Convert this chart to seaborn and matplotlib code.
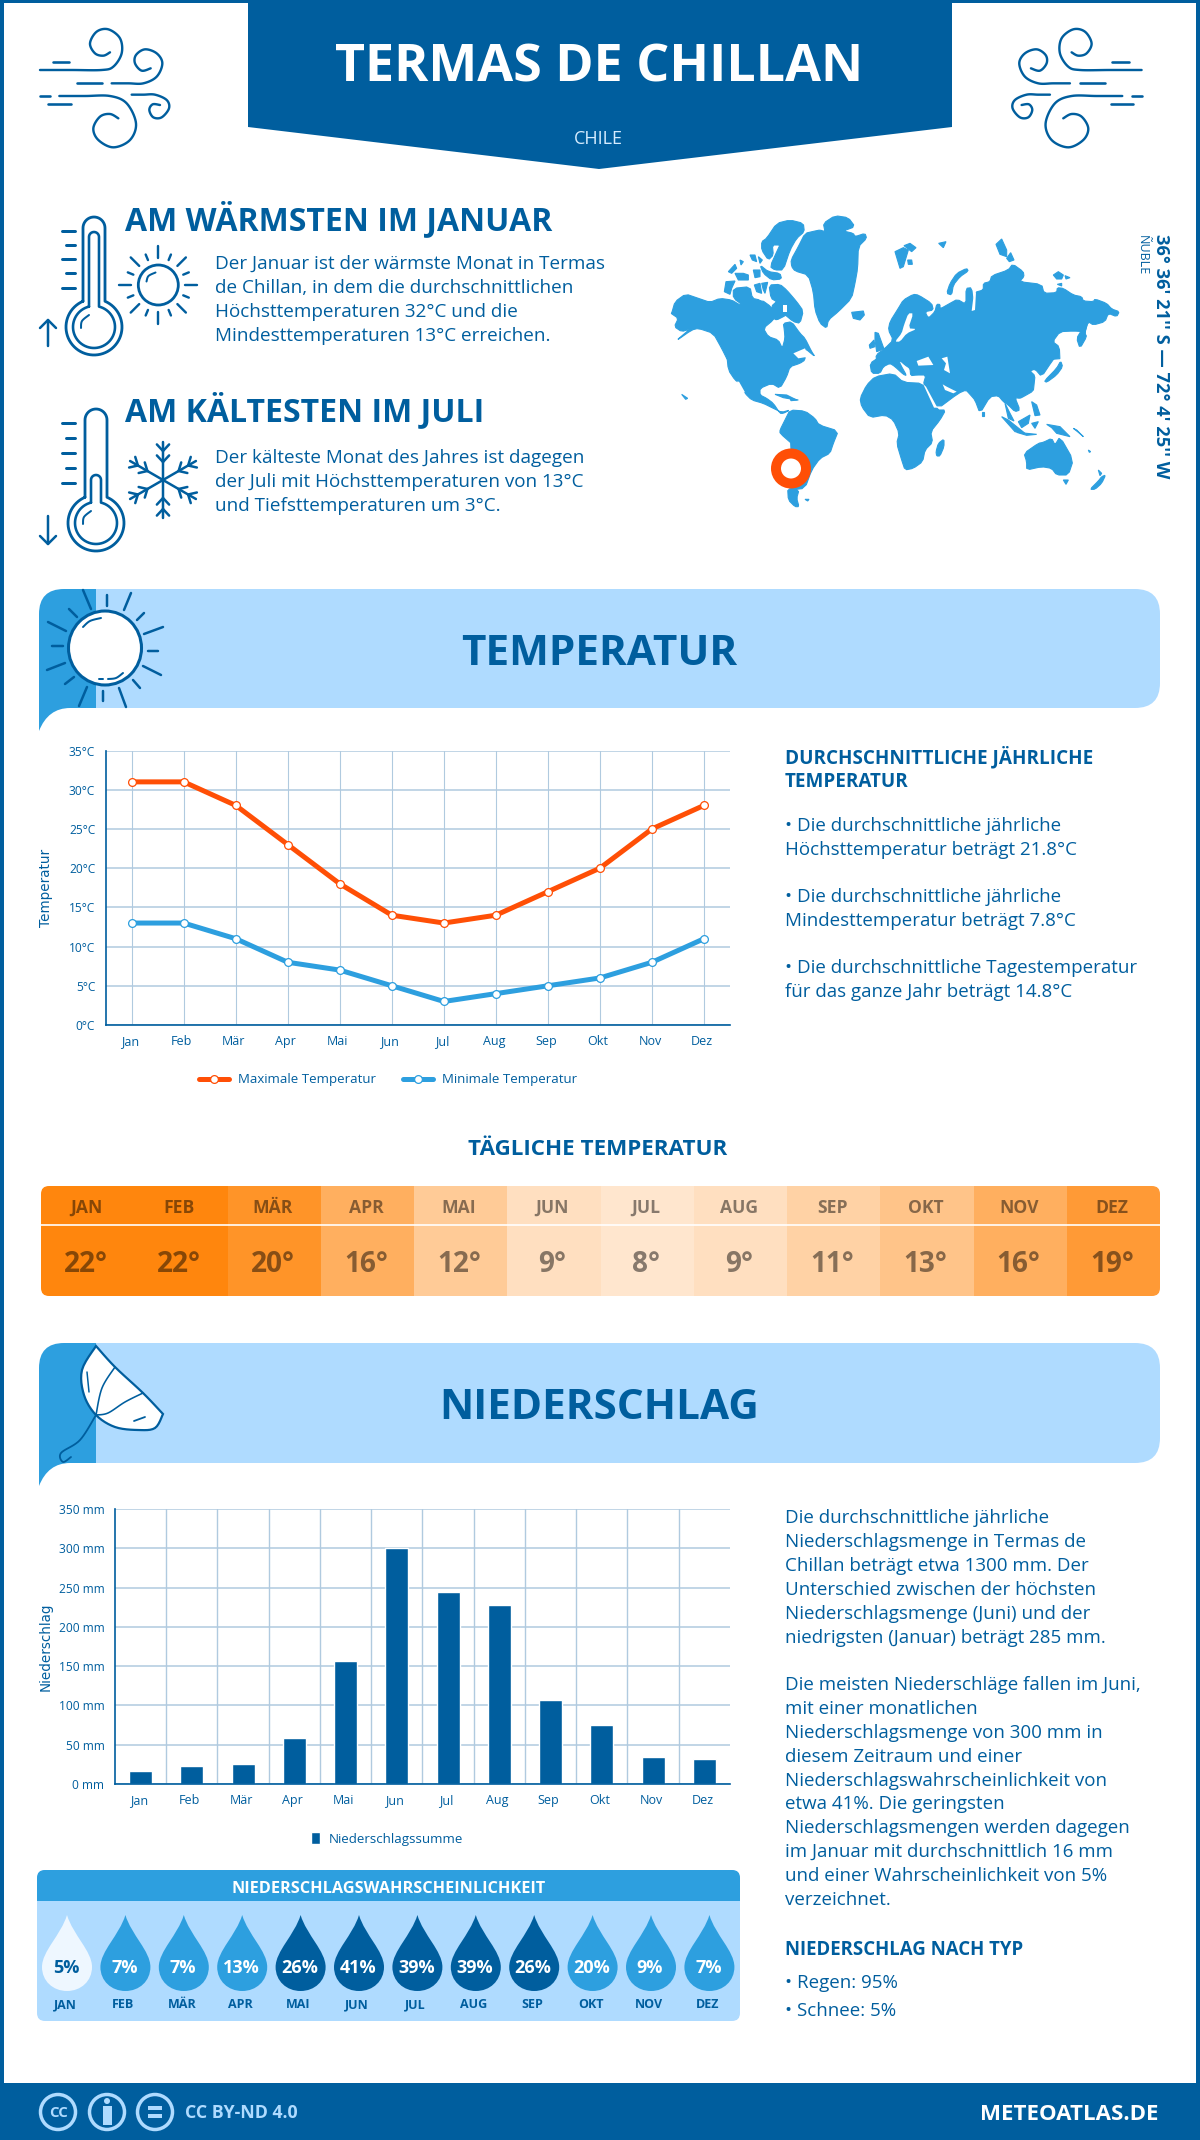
"""Climate infographic for Termas de Chillan, rebuilt with seaborn and matplotlib."""
import numpy as np
import pandas as pd
import matplotlib
matplotlib.use('Agg')
import matplotlib.pyplot as plt
import seaborn as sns
from matplotlib.colors import LinearSegmentedColormap
from matplotlib.patches import Circle, Ellipse, FancyBboxPatch, PathPatch, Polygon, Rectangle
from matplotlib.path import Path
from matplotlib.transforms import ScaledTranslation

W, H = 1200, 2140
NAVY = '#005E9E'
MID = '#2D9FDF'
PALE = '#AFDBFF'
GRID = '#B0CADF'
ORANGE = '#FF4F06'

MONTHS = ['Jan', 'Feb', 'Mär', 'Apr', 'Mai', 'Jun', 'Jul', 'Aug', 'Sep', 'Okt', 'Nov', 'Dez']
MONTHS_UP = ['JAN', 'FEB', 'MÄR', 'APR', 'MAI', 'JUN', 'JUL', 'AUG', 'SEP', 'OKT', 'NOV', 'DEZ']
temp_max = [31, 31, 28, 23, 18, 14, 13, 14, 17, 20, 25, 28]
temp_min = [13, 13, 11, 8, 7, 5, 3, 4, 5, 6, 8, 11]
temp_daily = [22, 22, 20, 16, 12, 9, 8, 9, 11, 13, 16, 19]
rain_mm = [16, 23, 26, 58, 157, 300, 245, 228, 107, 75, 35, 32]
rain_prob = [5, 7, 7, 13, 26, 41, 39, 39, 26, 20, 9, 7]
temp_ticks = [0, 5, 10, 15, 20, 25, 30, 35]
rain_ticks = [0, 50, 100, 150, 200, 250, 300, 350]

intro_warm = ['Der Januar ist der wärmste Monat in Termas',
              'de Chillan, in dem die durchschnittlichen',
              'Höchsttemperaturen 32°C und die',
              'Mindesttemperaturen 13°C erreichen.']
intro_cold = ['Der kälteste Monat des Jahres ist dagegen',
              'der Juli mit Höchsttemperaturen von 13°C',
              'und Tiefsttemperaturen um 3°C.']
temp_notes = [(824, '• Die durchschnittliche jährliche'),
              (848, 'Höchsttemperatur beträgt 21.8°C'),
              (895, '• Die durchschnittliche jährliche'),
              (919, 'Mindesttemperatur beträgt 7.8°C'),
              (966, '• Die durchschnittliche Tagestemperatur'),
              (990, 'für das ganze Jahr beträgt 14.8°C')]
rain_notes = [(1516, 'Die durchschnittliche jährliche'),
              (1540, 'Niederschlagsmenge in Termas de'),
              (1564, 'Chillan beträgt etwa 1300 mm. Der'),
              (1588, 'Unterschied zwischen der höchsten'),
              (1612, 'Niederschlagsmenge (Juni) und der'),
              (1636, 'niedrigsten (Januar) beträgt 285 mm.'),
              (1683, 'Die meisten Niederschläge fallen im Juni,'),
              (1707, 'mit einer monatlichen'),
              (1731, 'Niederschlagsmenge von 300 mm in'),
              (1755, 'diesem Zeitraum und einer'),
              (1779, 'Niederschlagswahrscheinlichkeit von'),
              (1802, 'etwa 41%. Die geringsten'),
              (1826, 'Niederschlagsmengen werden dagegen'),
              (1850, 'im Januar mit durchschnittlich 16 mm'),
              (1874, 'und einer Wahrscheinlichkeit von 5%'),
              (1898, 'verzeichnet.'),
              (1981, '• Regen: 95%'),
              (2009, '• Schnee: 5%')]

# rough map outlines, traced from four crops: origin in page pixels, points at 3x
map_nw = [
    [(20, 325), (30, 290), (62, 267), (100, 280), (135, 292), (165, 280), (200, 285), (225, 300), (270, 298), (290, 285),
     (318, 305), (330, 330), (325, 345), (295, 370), (310, 395), (340, 405), (352, 430), (360, 400), (358, 375),
     (355, 355), (380, 350), (405, 385), (420, 400), (440, 440), (450, 455), (420, 430), (390, 445), (385, 470),
     (190, 470), (170, 430), (145, 385), (100, 370), (80, 375), (30, 410), (75, 372), (50, 380), (28, 365), (40, 340),
     (18, 325)],
    [(312, 240), (345, 238), (365, 255), (395, 290), (415, 318), (405, 355), (385, 350), (355, 325), (335, 290), (318, 280)],
    [(318, 305), (340, 285), (372, 295), (372, 325), (355, 335), (335, 345), (325, 340)],
    [(305, 100), (335, 55), (375, 45), (415, 55), (418, 80), (395, 100), (375, 135), (355, 195), (330, 195), (315, 185),
     (340, 130), (345, 120), (322, 120), (325, 150), (310, 165), (290, 135), (290, 110)],
    [(378, 165), (400, 125), (420, 85), (450, 78), (465, 75), (480, 80), (475, 55), (510, 32), (550, 38), (570, 65),
     (535, 78), (565, 85), (570, 95), (600, 85), (605, 100), (580, 125), (578, 190), (570, 235), (560, 280), (520, 320),
     (490, 345), (485, 370), (465, 355), (450, 315), (445, 260), (430, 210), (390, 198), (380, 185)],
    [(190, 200), (210, 178), (215, 190), (200, 205)],
    [(210, 205), (235, 205), (250, 210), (250, 225), (220, 225)],
    [(265, 195), (285, 195), (285, 215), (270, 218)],
    [(285, 180), (310, 200), (345, 205), (350, 222), (320, 225), (295, 205)],
    [(255, 150), (270, 150), (275, 170), (262, 165)],
    [(280, 155), (292, 165), (285, 175)],
    [(225, 165), (235, 170), (228, 180)],
    [(205, 250), (255, 245), (262, 280), (285, 285), (295, 300), (240, 305), (205, 280)],
    [(183, 230), (210, 228), (200, 250), (195, 268), (178, 260)],
    [(268, 240), (285, 235), (290, 265), (275, 260)],
    [(290, 235), (308, 232), (300, 265), (295, 255)],
    [(560, 322), (595, 318), (598, 330), (585, 345), (565, 340)],
]
map_sw = [
    [(185, -5), (420, -5), (420, 15), (405, 25), (375, 35), (365, 65), (345, 100), (320, 85), (285, 100), (285, 120),
     (305, 130), (325, 145), (345, 175), (355, 175), (375, 165), (350, 172), (325, 160), (295, 145), (260, 135), (240, 115),
     (225, 85), (210, 75), (190, 45)],
    [(345, 225), (360, 195), (375, 165), (420, 168), (450, 190), (462, 210), (520, 228), (505, 265), (495, 295), (465, 310),
     (440, 345), (420, 400), (375, 405), (350, 340), (385, 270), (345, 235)],
    [(368, 400), (402, 405), (395, 430), (402, 455), (390, 455), (370, 435)],
    [(420, 433), (432, 433), (428, 438)],
    [(330, 118), (365, 120), (395, 135), (355, 128)],
    [(375, 130), (400, 135), (378, 137)],
    [(50, 118), (68, 130), (62, 133)],
]
map_ne = [
    [(50, 470), (48, 450), (75, 430), (100, 405), (85, 375), (90, 350), (115, 310), (130, 285), (160, 268), (175, 270),
     (215, 295), (220, 315), (195, 320), (205, 340), (225, 320), (230, 298), (240, 298), (240, 312), (270, 295), (292, 283),
     (318, 298), (318, 250), (335, 248), (340, 295), (345, 262), (370, 255), (370, 235), (390, 230), (395, 212), (445, 195),
     (458, 177), (490, 200), (492, 215), (478, 230), (545, 238), (552, 265), (590, 263), (592, 248), (610, 250), (640, 270),
     (665, 275), (670, 288), (700, 290), (705, 282), (740, 295), (755, 312), (778, 320), (770, 335), (745, 325), (735, 350),
     (700, 360), (685, 350), (675, 380), (640, 378), (600, 380), (578, 410), (598, 425), (600, 470)],
    [(50, 440), (45, 405), (45, 382), (55, 385), (72, 432)],
    [(28, 420), (42, 405), (45, 425), (30, 430)],
    [(105, 140), (130, 128), (145, 135), (130, 185), (120, 190)],
    [(132, 122), (150, 115), (168, 128), (155, 140)],
    [(143, 165), (155, 165), (157, 178), (145, 178)],
    [(236, 115), (258, 110), (250, 128)],
    [(260, 265), (270, 235), (290, 205), (320, 190), (325, 198), (300, 215), (280, 240), (275, 270)],
    [(408, 118), (425, 102), (440, 135), (440, 155), (420, 148)],
    [(440, 160), (452, 143), (462, 165), (448, 170)],
    [(580, 210), (595, 200), (610, 210), (605, 222), (590, 222)],
    [(615, 212), (630, 218), (618, 222)],
    [(592, 238), (605, 235), (605, 243)],
    [(650, 400), (665, 375), (682, 352), (675, 385), (680, 395), (660, 430)],
]
map_se = [
    [(30, 25), (60, 5), (60, -5), (595, -5), (575, 20), (545, 65), (525, 42), (510, 48), (525, 62), (522, 90), (520, 108),
     (490, 125), (480, 130), (465, 128), (480, 165), (465, 170), (445, 150), (430, 140), (415, 122), (390, 125), (360, 175),
     (345, 135), (330, 118), (318, 105), (295, 115), (232, 162), (205, 115), (190, 88), (198, 60), (170, 60), (152, 62),
     (150, 40), (135, 30), (115, 12), (122, 30), (140, 62), (130, 58), (105, 35), (90, 25), (70, 35), (60, 55), (35, 55)],
    [(0, 130), (20, 90), (45, 65), (100, 55), (130, 82), (188, 85), (205, 120), (232, 165), (257, 165), (240, 195), (212, 230),
     (218, 262), (195, 285), (188, 320), (160, 340), (135, 345), (125, 315), (110, 265), (118, 235), (100, 195), (75, 180),
     (30, 188), (5, 155)],
    [(228, 290), (235, 265), (252, 252), (252, 275), (240, 303), (230, 303)],
    [(492, 295), (535, 265), (550, 262), (575, 250), (585, 270), (600, 245), (640, 315), (625, 360), (590, 360), (575, 340),
     (545, 335), (500, 345), (500, 320)],
    [(610, 375), (625, 375), (618, 388)],
    [(690, 403), (715, 378), (725, 365), (737, 360), (725, 385), (705, 403)],
    [(715, 345), (725, 355), (720, 362)],
    [(475, 200), (510, 180), (505, 205), (485, 218)],
    [(425, 185), (445, 195), (495, 235), (465, 230)],
    [(470, 232), (530, 238), (500, 241)],
    [(560, 208), (600, 215), (630, 245), (590, 235), (575, 218)],
    [(515, 205), (535, 200), (525, 220)],
    [(515, 140), (530, 150), (540, 180), (525, 182)],
    [(553, 78), (590, 40), (602, 18), (608, 35), (590, 60), (560, 82)],
    [(365, 170), (372, 170), (372, 182), (365, 182)],
    [(435, 145), (450, 175), (462, 198), (445, 190)],
    [(640, 220), (650, 225), (670, 245), (655, 232)],
    [(685, 285), (692, 290), (688, 292)],
]
map_groups = [((665, 205), map_nw), ((665, 355), map_sw), ((860, 205), map_ne), ((860, 355), map_se)]
sea_groups = [
    ((665, 205), [[(385, 445), (420, 430), (430, 455), (400, 460)],
                  [(355, 300), (367, 300), (367, 320), (355, 320)]]),
    ((665, 355), [[(215, 80), (222, 80), (240, 112), (235, 112)]]),
    ((860, 205), [[(145, 325), (160, 325), (145, 370), (170, 372), (140, 385), (120, 410), (105, 410), (125, 385), (132, 360)],
                  [(342, 262), (348, 262), (345, 315), (335, 318)]]),
    ((860, 355), [[(170, 18), (205, 5), (220, 30), (175, 32)],
                  [(245, 10), (262, 5), (270, 55), (252, 45), (258, 25)],
                  [(248, 88), (260, 95), (290, 110), (280, 115), (255, 105)],
                  [(190, 88), (198, 95), (232, 158), (222, 158)]]),
]

sun_rays = [((83, 590), (91, 609)), ((107, 595), (107, 606)), ((131, 593), (124, 610)), ((144, 613), (137, 620)),
            ((163, 627), (144, 634)), ((148, 651), (158, 651)), ((161, 675), (143, 666)), ((140, 688), (133, 680)),
            ((126, 707), (119, 688)), ((103, 701), (103, 691)), ((79, 706), (87, 687)), ((65, 684), (74, 677)),
            ((47, 670), (65, 663)), ((52, 646), (63, 646)), ((48, 622), (66, 631)), ((69, 609), (77, 617))]


def fs(px):
    """Font size in points for a height in pixels at dpi 100."""
    return px * 0.72


def box(left, top, right, bottom):
    return [left / W, 1 - bottom / H, (right - left) / W, (bottom - top) / H]


def smooth(pts, n=10):
    """Catmull-Rom curve through the given points."""
    p = np.array([pts[0]] + list(pts) + [pts[-1]], dtype=float)
    out = []
    for i in range(1, len(p) - 2):
        for t in np.linspace(0, 1, n, endpoint=False):
            out.append(0.5 * (2 * p[i] + (p[i + 1] - p[i - 1]) * t
                              + (2 * p[i - 1] - 5 * p[i] + 4 * p[i + 1] - p[i + 2]) * t ** 2
                              + (3 * p[i] - p[i - 1] - 3 * p[i + 1] + p[i + 2]) * t ** 3))
    out.append(p[-2])
    return np.array(out)


def soften(pts):
    """One corner-cutting pass, keeps the long map outlines from looking faceted."""
    if len(pts) < 6:
        return pts
    nxt = np.roll(pts, -1, axis=0)
    return np.c_[0.8 * pts + 0.2 * nxt, 0.2 * pts + 0.8 * nxt].reshape(-1, 2)


sns.set_theme(style='white')
plt.rcParams['font.family'] = ['Open Sans', 'DejaVu Sans']

fig = plt.figure(figsize=(W / 100, H / 100), dpi=100, facecolor='white')
bg = fig.add_axes([0, 0, 1, 1])
bg.set_xlim(0, W)
bg.set_ylim(H, 0)
bg.axis('off')


def label(x, y, s, px, color=NAVY, weight='normal', ha='left', **kw):
    """Text whose capitals are centred on y."""
    return bg.text(x, y + 0.357 * px, s, fontsize=fs(px), color=color, fontweight=weight, ha=ha, va='baseline', **kw)


def stroke(pts, lw=2.5, color=NAVY, z=4):
    pts = np.asarray(pts)
    bg.plot(pts[:, 0], pts[:, 1], color=color, lw=lw * 0.72, solid_capstyle='round', solid_joinstyle='round', zorder=z)


# page frame, title banner and footer
bg.add_patch(Rectangle((0, 0), W, 3, color=NAVY, lw=0))
bg.add_patch(Rectangle((0, 0), 4, H, color=NAVY, lw=0))
bg.add_patch(Rectangle((W - 4, 0), 4, H, color=NAVY, lw=0))
bg.add_patch(Polygon([(248, 0), (952, 0), (952, 127), (599, 169), (248, 127)], color=NAVY, lw=0))
bg.add_patch(Rectangle((0, 2083), W, 57, color=NAVY, lw=0))
label(599, 63, 'TERMAS DE CHILLAN', 52, 'white', 'bold', 'center')
label(598, 138, 'CHILE', 18, '#D5ECFF', ha='center')


# wind icons, the right one is the left one mirrored
def wind(flip):
    def zm(pts):
        a = np.array(pts, dtype=float) / 3 + [30, 20]
        if flip:
            a[:, 0] = 1181.6 - a[:, 0]
        return a
    curls = [[(30, 150), (125, 150), (215, 150), (250, 140), (275, 100), (270, 55), (235, 28), (200, 35), (180, 70), (195, 100), (220, 107), (240, 97)],
             [(245, 190), (295, 190), (340, 190), (380, 170), (397, 130), (380, 100), (345, 88), (318, 105), (315, 130), (335, 152), (362, 145)],
             [(88, 228), (165, 228), (240, 228), (290, 250), (318, 310), (300, 360), (250, 382), (205, 360), (190, 325), (210, 290), (240, 282), (265, 295)],
             [(305, 224), (340, 224), (375, 224), (410, 240), (417, 265), (395, 292), (370, 292), (358, 270), (368, 253), (390, 255)]]
    for c in curls:
        stroke(smooth(zm(c)), 2.4)
    for c in [[(68, 125), (118, 125)], [(140, 190), (215, 190)], [(30, 228), (60, 228)], [(55, 253), (123, 253)]]:
        stroke(zm(c), 2.6)


wind(False)
wind(True)


# thermometers
def thermometer(cx, top, bulb_y, inner_top, tick_y, arrow):
    a0 = np.arcsin(11 / 28)
    t = np.linspace(np.pi / 2 - a0, -3 * np.pi / 2 + a0, 60)
    bulb = np.c_[cx + 28 * np.cos(t), bulb_y - 28 * np.sin(t)]
    cap = np.linspace(np.pi, 0, 20)
    outer = np.r_[bulb[-1:], np.c_[cx + 11 * np.cos(cap), top + 11 - 11 * np.sin(cap)], bulb]
    stroke(outer, 2.8)
    a1 = np.arcsin(5 / 21)
    t = np.linspace(np.pi / 2 - a1, -3 * np.pi / 2 + a1, 60)
    bulb = np.c_[cx + 21 * np.cos(t), bulb_y - 21 * np.sin(t)]
    inner = np.r_[bulb[-1:], np.c_[cx + 5 * np.cos(cap), inner_top + 5 - 5 * np.sin(cap)], bulb]
    stroke(inner, 2.6)
    stroke(smooth([(cx - 13, bulb_y + 1), (cx - 12, bulb_y - 6), (cx - 5, bulb_y - 12)]), 2)
    for i, y in enumerate(tick_y):
        stroke([(62 if i % 2 == 0 else 66, y), (75, y)], 3)
    x0, y0, y1 = arrow
    stroke([(x0, y0), (x0, y1)], 2.5)
    d = 8 if y1 < y0 else -8
    stroke([(x0 - 8, y1 + d), (x0, y1), (x0 + 8, y1 + d)], 2.5)


thermometer(94, 217, 327, 232, [231, 245, 259, 273, 288], (48, 346, 320))
thermometer(96, 409, 523, 475, [423, 438, 453, 468, 483], (48, 516, 544))

# small sun
bg.add_patch(Circle((158.3, 285), 20, fc='none', ec=NAVY, lw=2))
stroke(smooth([(146.5, 281.5), (148.5, 276), (155.5, 272.5)]), 2)
for i, deg in enumerate(np.arange(0, 360, 22.5)):
    a = np.deg2rad(deg)
    r0, r1 = (27, 39) if i % 2 == 0 else (27, 33)
    stroke([(158.3 + r0 * np.cos(a), 285 + r0 * np.sin(a)), (158.3 + r1 * np.cos(a), 285 + r1 * np.sin(a))], 2.4)

# snowflake
for a in np.deg2rad(np.arange(30, 390, 60)):
    ux, uy = np.cos(a), np.sin(a)
    stroke([(163, 480), (163 + 38 * ux, 480 + 38 * uy)], 2.5)
    for r in (18, 29):
        for side in (-0.75, 0.75):
            bx, by = np.cos(a + side), np.sin(a + side)
            stroke([(163 + r * ux, 480 + r * uy), (163 + r * ux + 9 * bx, 480 + r * uy + 9 * by)], 2.5)

label(125, 219, 'AM WÄRMSTEN IM JANUAR', 32, weight='bold')
for y, s in zip([262, 286, 310, 334], intro_warm):
    label(215, y, s, 18.9)
label(125, 410, 'AM KÄLTESTEN IM JULI', 32, weight='bold')
for y, s in zip([456, 480, 504], intro_cold):
    label(215, y, s, 18.9)

# world map with location ring
for origin, polys in map_groups:
    for poly in polys:
        pts = soften(np.array(poly, dtype=float) / 3 + origin)
        bg.add_patch(Polygon(pts, closed=True, fc=MID, ec=MID, lw=0.8, zorder=2))
for origin, polys in sea_groups:
    for poly in polys:
        pts = soften(np.array(poly, dtype=float) / 3 + origin)
        bg.add_patch(Polygon(pts, closed=True, fc='white', ec='white', lw=0, zorder=3))
bg.add_patch(Circle((791, 468.5), 15, fc='white', ec=ORANGE, lw=10 * 0.72, zorder=5))
bg.text(1161, 234, "36° 36' 21'' S — 72° 4' 25'' W", rotation=270, ha='center', va='top', fontsize=fs(18.3),
        fontweight='bold', color=NAVY)
bg.text(1142.5, 235, 'ÑUBLE', rotation=270, ha='center', va='top', fontsize=fs(12.5), color=NAVY)


# section banners
def banner(top, bottom, title):
    bg.add_patch(FancyBboxPatch((60, top), 1100, bottom - top, boxstyle='round,pad=0,rounding_size=25',
                                fc=PALE, ec='none', zorder=1))
    c = 25
    verts = [(39, top + c), (39, top), (39 + c, top), (96, top), (96, bottom), (39 + c + 6, bottom),
             (48, bottom), (39, bottom + 23), (39, top + c)]
    codes = [Path.MOVETO, Path.CURVE3, Path.CURVE3, Path.LINETO, Path.LINETO, Path.LINETO,
             Path.CURVE3, Path.CURVE3, Path.CLOSEPOLY]
    bg.add_patch(PathPatch(Path(verts, codes), fc=MID, ec='none', zorder=2))
    label(599, (top + bottom) / 2 + 1, title, 42.3, weight='bold', ha='center', zorder=6)


banner(589, 708, 'TEMPERATUR')
banner(1343, 1463, 'NIEDERSCHLAG')

# big sun
bg.add_patch(Ellipse((105, 648), 73, 74, fc='white', ec=NAVY, lw=2.2, zorder=3))
stroke(smooth([(83, 627), (90, 621), (101, 618)]), 2)
stroke(smooth([(108, 679), (116, 678), (123, 673)]), 2)
stroke([(99, 679), (103, 679)], 2)
for a, b in sun_rays:
    stroke([a, b], 2.5)

# umbrella
canopy = smooth([(96, 1346), (115, 1367), (143, 1393), (163, 1414)], 6).tolist()
canopy += smooth([(163, 1414), (155, 1428), (138, 1430), (115, 1427), (96, 1415), (84, 1395), (82, 1370), (96, 1346)], 6).tolist()
bg.add_patch(Polygon(canopy, closed=True, fc='white', ec=NAVY, lw=1.6, zorder=3))
stroke(smooth([(96, 1415), (108, 1413), (125, 1402), (143, 1393)]), 1.6)
stroke(smooth([(115, 1367), (102, 1388), (96, 1415)]), 1.6)
stroke([(87, 1372), (89, 1392)], 1.5)
stroke([(134, 1421), (145, 1417)], 1.8)
stroke(smooth([(96, 1415), (80, 1440), (61, 1453), (63, 1462), (71, 1457)]), 1.8)

# temperature chart
df_temp = pd.DataFrame({'Monat': MONTHS, 'Max': temp_max, 'Min': temp_min})
ax1 = fig.add_axes(box(105.7, 750.5, 730, 1025))
ax1.patch.set_alpha(0)
sns.lineplot(data=df_temp, x='Monat', y='Max', ax=ax1, color=ORANGE, lw=3.6, sort=False, label='Maximale Temperatur',
             marker='o', ms=5.6, mfc='white', mec=ORANGE, mew=0.9)
sns.lineplot(data=df_temp, x='Monat', y='Min', ax=ax1, color=MID, lw=3.6, sort=False, label='Minimale Temperatur',
             marker='o', ms=5.6, mfc='white', mec=MID, mew=0.9)
ax1.set_xlim(-0.5, 11.5)
ax1.set_ylim(0, 35)
ax1.set_yticks(temp_ticks)
ax1.set_yticklabels([f'{t}°C' for t in temp_ticks])
ax1.grid(True, axis='y', color=GRID, lw=1.1)
ax1.grid(True, axis='x', color=GRID, lw=0.8)

# precipitation chart
df_rain = pd.DataFrame({'Monat': MONTHS, 'mm': rain_mm})
ax2 = fig.add_axes(box(115, 1509, 730, 1784))
ax2.patch.set_alpha(0)
sns.barplot(data=df_rain, x='Monat', y='mm', ax=ax2, color=NAVY, saturation=1, width=0.445, label='Niederschlagssumme')
ax2.set_xlim(-0.5, 11.5)
ax2.set_ylim(0, 350)
ax2.set_yticks(rain_ticks)
ax2.set_yticklabels([f'{t} mm' for t in rain_ticks])
ax2.set_xticks(np.arange(0.5, 11.5), minor=True)
ax2.grid(True, axis='y', color=GRID, lw=1.1)
ax2.grid(True, axis='x', which='minor', color=GRID, lw=1.0)
ax2.grid(False, axis='x', which='major')
ax2.tick_params(axis='x', which='minor', length=0)

for ax, name, lx in [(ax1, 'Temperatur', 45.6), (ax2, 'Niederschlag', 46)]:
    ax.set_axisbelow(True)
    ax.set_xlabel('')
    ax.set_ylabel(name, fontsize=fs(13.5), color=NAVY, family='DejaVu Sans', va='center')
    box_w = ax.get_position().width * W
    ax.yaxis.set_label_coords((lx - ax.get_position().x0 * W) / box_w, 0.5)
    sns.despine(ax=ax, top=True, right=True)
    for side in ('left', 'bottom'):
        ax.spines[side].set_color(NAVY)
        ax.spines[side].set_linewidth(1.2)
    ax.tick_params(axis='y', which='major', length=5 * 0.72, width=0.9, color=NAVY, labelcolor=NAVY, labelsize=fs(12), pad=4)
    ax.tick_params(axis='x', which='major', length=0, labelcolor=NAVY, labelsize=fs(12.5), pad=7)
    for tick in ax.get_xticklabels():
        tick.set_transform(tick.get_transform() + ScaledTranslation(-2 / 100, 0, fig.dpi_scale_trans))

ax1.legend(loc='center', bbox_to_anchor=(388 / W, 1 - 1080 / H), bbox_transform=fig.transFigure, ncol=2, frameon=False,
           fontsize=fs(13.2), labelcolor=NAVY, handlelength=2.3, columnspacing=2.0, handletextpad=0.7)
ax2.legend(loc='center', bbox_to_anchor=(387 / W, 1 - 1839 / H), bbox_transform=fig.transFigure, frameon=False,
           fontsize=fs(13.4), labelcolor=NAVY, handlelength=0.7, handleheight=0.9, handletextpad=0.6)

# daily temperature strip
label(598, 1147, 'TÄGLICHE TEMPERATUR', 22.4, weight='bold', ha='center')
strip_cmap = LinearSegmentedColormap.from_list('warm', ['#FFE6CE', '#FF860D'])
ax3 = fig.add_axes(box(41, 1186, 1160, 1296))
sns.heatmap(np.array([temp_daily]), ax=ax3, cmap=strip_cmap, vmin=8, vmax=22, cbar=False, xticklabels=False,
            yticklabels=False, linewidths=0)
clip = FancyBboxPatch((41, 1186), 1119, 110, boxstyle='round,pad=0,rounding_size=8', transform=bg.transData,
                      fc='none', ec='none')
ax3.collections[0].set_clip_path(clip)
ax3.axhline(0.355, color='white', lw=1.2)
for i, (m, v) in enumerate(zip(MONTHS_UP, temp_daily)):
    ax3.text(i + 0.484, 0.182, m, ha='center', va='center_baseline', fontsize=fs(17.5), fontweight='bold', color='black', alpha=0.47)
    ax3.text(i + 0.484, 0.68, f'{v}°', ha='center', va='center_baseline', fontsize=fs(28), fontweight='bold', color='black', alpha=0.47)

# side notes
label(785, 757, 'DURCHSCHNITTLICHE JÄHRLICHE', 18.9, weight='bold')
label(785, 780, 'TEMPERATUR', 18.9, weight='bold')
for y, s in temp_notes + rain_notes:
    label(785, y, s, 18.8)
label(785, 1948, 'NIEDERSCHLAG NACH TYP', 18.7, weight='bold')

# rain probability panel
bg.add_patch(FancyBboxPatch((37, 1870), 703, 151, boxstyle='round,pad=0,rounding_size=8', fc=PALE, ec='none'))
header = FancyBboxPatch((37, 1870), 703, 50, boxstyle='round,pad=0,rounding_size=8', fc=MID, ec='none')
bg.add_patch(header)
bg.add_patch(Rectangle((37, 1901), 703, 24, fc=PALE, ec='none', zorder=1.5))
label(389, 1887, 'NIEDERSCHLAGSWAHRSCHEINLICHKEIT', 16.2, 'white', 'bold', 'center', zorder=3)
for i, (m, p) in enumerate(zip(MONTHS_UP, rain_prob)):
    cx = 67 + i * 58.4
    fill = '#EEF7FF' if p < 7 else (MID if p < 26 else NAVY)
    top, mid, low = 1915, 1967, 1991
    verts = [(cx, top), (cx + 6, top + 20), (cx + 25, top + 36), (cx + 25, mid),
             (cx + 25, low - 10), (cx + 14, low), (cx, low),
             (cx - 14, low), (cx - 25, low - 10), (cx - 25, mid),
             (cx - 25, top + 36), (cx - 6, top + 20), (cx, top)]
    codes = [Path.MOVETO] + [Path.CURVE4] * 12
    bg.add_patch(PathPatch(Path(verts, codes), fc=fill, ec='none', zorder=3))
    label(cx - 1, 1967, f'{p}%', 18, NAVY if p < 7 else 'white', 'bold', 'center', zorder=4)
    label(cx - 2, 2004, m, 12.5, weight='bold', ha='center', zorder=4)

# footer licence and site name
for cx in (58, 107, 155):
    bg.add_patch(Circle((cx, 2112), 17.5, fc='none', ec=PALE, lw=2.5, zorder=4))
label(58, 2112, 'CC', 15, PALE, 'bold', 'center', zorder=5)
bg.add_patch(Circle((107, 2101), 3, fc=PALE, ec='none', zorder=5))
bg.add_patch(Rectangle((102.5, 2106), 9, 19, fc=PALE, ec='none', zorder=5))
bg.add_patch(Rectangle((148, 2106), 14, 3.5, fc=PALE, ec='none', zorder=5))
bg.add_patch(Rectangle((148, 2114), 14, 3.5, fc=PALE, ec='none', zorder=5))
label(185, 2112, 'CC BY-ND 4.0', 17.8, PALE, 'bold', zorder=5)
label(1158, 2112, 'METEOATLAS.DE', 22.3, 'white', 'bold', 'right', zorder=5)

fig.savefig('out.png', dpi=100)
plt.close(fig)
